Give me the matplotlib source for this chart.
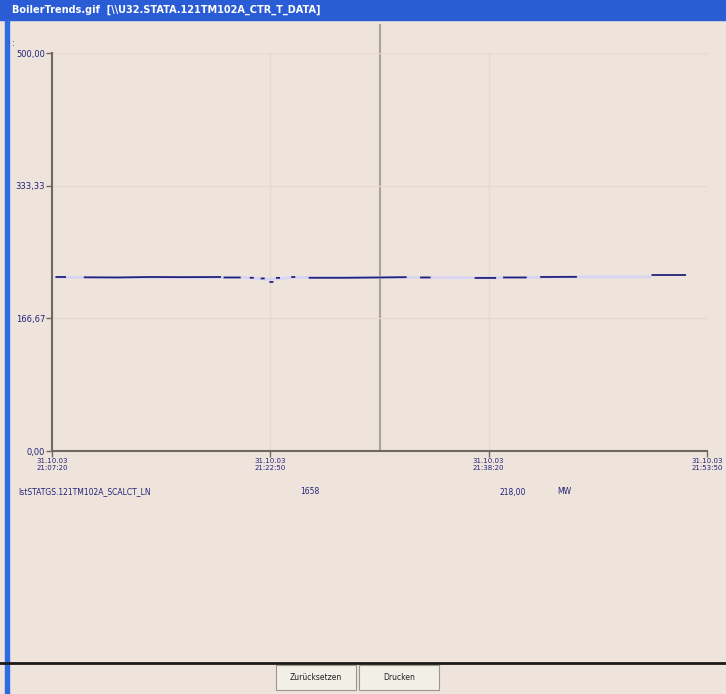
'''
Trend window screenshot: one tag over ~45 minutes.
'''

import numpy as np
from matplotlib import pyplot as plt
from matplotlib.patches import Rectangle

######################

W, H = 726, 694
bg = '#eee4dc'
navy = '#23237a'

# time axis in tick units (0..3), values in MW
t_dark = [0.02, 0.06, np.nan, 0.15, 0.30, 0.45, 0.60, 0.77, np.nan, 0.79, 0.86, np.nan,
          0.91, 0.92, np.nan, 0.96, 0.97, np.nan, 1.0, 1.01, np.nan, 1.03, 1.04, np.nan,
          1.10, 1.11, np.nan, 1.18, 1.34, 1.50, 1.62, np.nan, 1.69, 1.73, np.nan,
          1.94, 2.03, np.nan, 2.07, 2.17, np.nan, 2.24, 2.40, np.nan, 2.75, 2.90]
y_dark = [218.6, 218.6, np.nan, 218.2, 218.0, 218.6, 218.4, 218.6, np.nan, 218.0, 218.0, np.nan,
          217.6, 217.6, np.nan, 216.8, 216.8, np.nan, 212.3, 212.3, np.nan, 217.5, 217.5, np.nan,
          218.6, 218.6, np.nan, 217.6, 217.6, 218.0, 218.4, np.nan, 218.0, 218.0, np.nan,
          217.4, 217.4, np.nan, 218.0, 218.0, np.nan, 218.6, 218.8, np.nan, 221.1, 221.1]
t_light = [0.02, 0.45, 0.90, 1.0, 1.10, 1.50, 2.00, 2.40, 2.74]
y_light = [218.2, 218.0, 217.8, 215.5, 218.0, 218.2, 217.6, 218.6, 218.8]

y_ticks = [0.0, 166.67, 333.33, 500.0]
y_labels = ['0,00', '166,67', '333,33', '500,00']
x_labels = ['31.10.03\n21:07:20', '31.10.03\n21:22:50',
            '31.10.03\n21:38:20', '31.10.03\n21:53:50']
cursor_t = 1.502

tag = 'IstSTATGS.121TM102A_SCALCT_LN'
tag_val = '1658'
cur_val = '218,00'
unit = 'MW'
title = 'BoilerTrends.gif  [\\\\U32.STATA.121TM102A_CTR_T_DATA]'
buttons = ['Zurücksetzen', 'Drucken']


def fx(px):
    return px / W


def fy(py):
    return 1 - py / H


fig = plt.figure(figsize=(W / 100, H / 100), dpi=100, facecolor=bg)

# window chrome
fig.patches.append(Rectangle((0, fy(20)), 1, 20 / H, transform=fig.transFigure,
                             color='#2a5cd6', zorder=0))
fig.patches.append(Rectangle((fx(5), 0), 4 / W, fy(20), transform=fig.transFigure,
                             color='#2f6ae0', zorder=0))
fig.text(fx(12), fy(10), title, color='white', fontsize=7, fontweight='bold', va='center')
fig.text(fx(12), fy(43), ':', color=navy, fontsize=6, va='center')

ax = fig.add_axes([fx(52), fy(451), fx(707 - 52), (451 - 53) / H])
ax.set_facecolor(bg)
ax.plot(t_light, y_light, c='#d9d4f2', lw=2.0, zorder=2)
ax.plot(t_dark, y_dark, c=navy, lw=1.3, zorder=3)
ax.axvline(cursor_t, ymin=0, ymax=1.07, c='#a8a298', lw=1.5, clip_on=False, zorder=1)

ax.set_xlim(0, 3)
ax.set_ylim(0, 500)
ax.set_xticks(range(4))
ax.set_xticklabels(x_labels, fontsize=5, color=navy, linespacing=1.15)
ax.set_yticks(y_ticks)
ax.set_yticklabels(y_labels, fontsize=6, color=navy)
ax.tick_params(colors='#6e6a62', labelcolor=navy, length=4, width=1, pad=1)
ax.grid(True, color='#e4dad2', lw=1)
for s in ['top', 'right']:
    ax.spines[s].set_visible(False)
for s in ['left', 'bottom']:
    ax.spines[s].set_color('#6e6a62')
    ax.spines[s].set_linewidth(1.5)

# value row under the chart
fig.text(fx(18), fy(492), tag, color=navy, fontsize=5.5, va='center')
fig.text(fx(300), fy(492), tag_val, color=navy, fontsize=5.5, va='center')
fig.text(fx(500), fy(492), cur_val, color=navy, fontsize=5.5, va='center')
fig.text(fx(557), fy(492), unit, color=navy, fontsize=5.5, va='center')

# bottom bar and buttons
fig.add_artist(plt.Line2D([0, 1], [fy(663), fy(663)], transform=fig.transFigure,
                          c='#1a1a1a', lw=2))
for i, b in enumerate(buttons):
    x0 = 276 + i * 83
    fig.patches.append(Rectangle((fx(x0), fy(690)), 80 / W, 25 / H, transform=fig.transFigure,
                                 facecolor='#f1efe6', edgecolor='#9a968c', lw=0.8))
    fig.text(fx(x0 + 40), fy(677), b, fontsize=5.5, ha='center', va='center', color='#222222')

plt.savefig('out.png', dpi=100, facecolor=bg)
